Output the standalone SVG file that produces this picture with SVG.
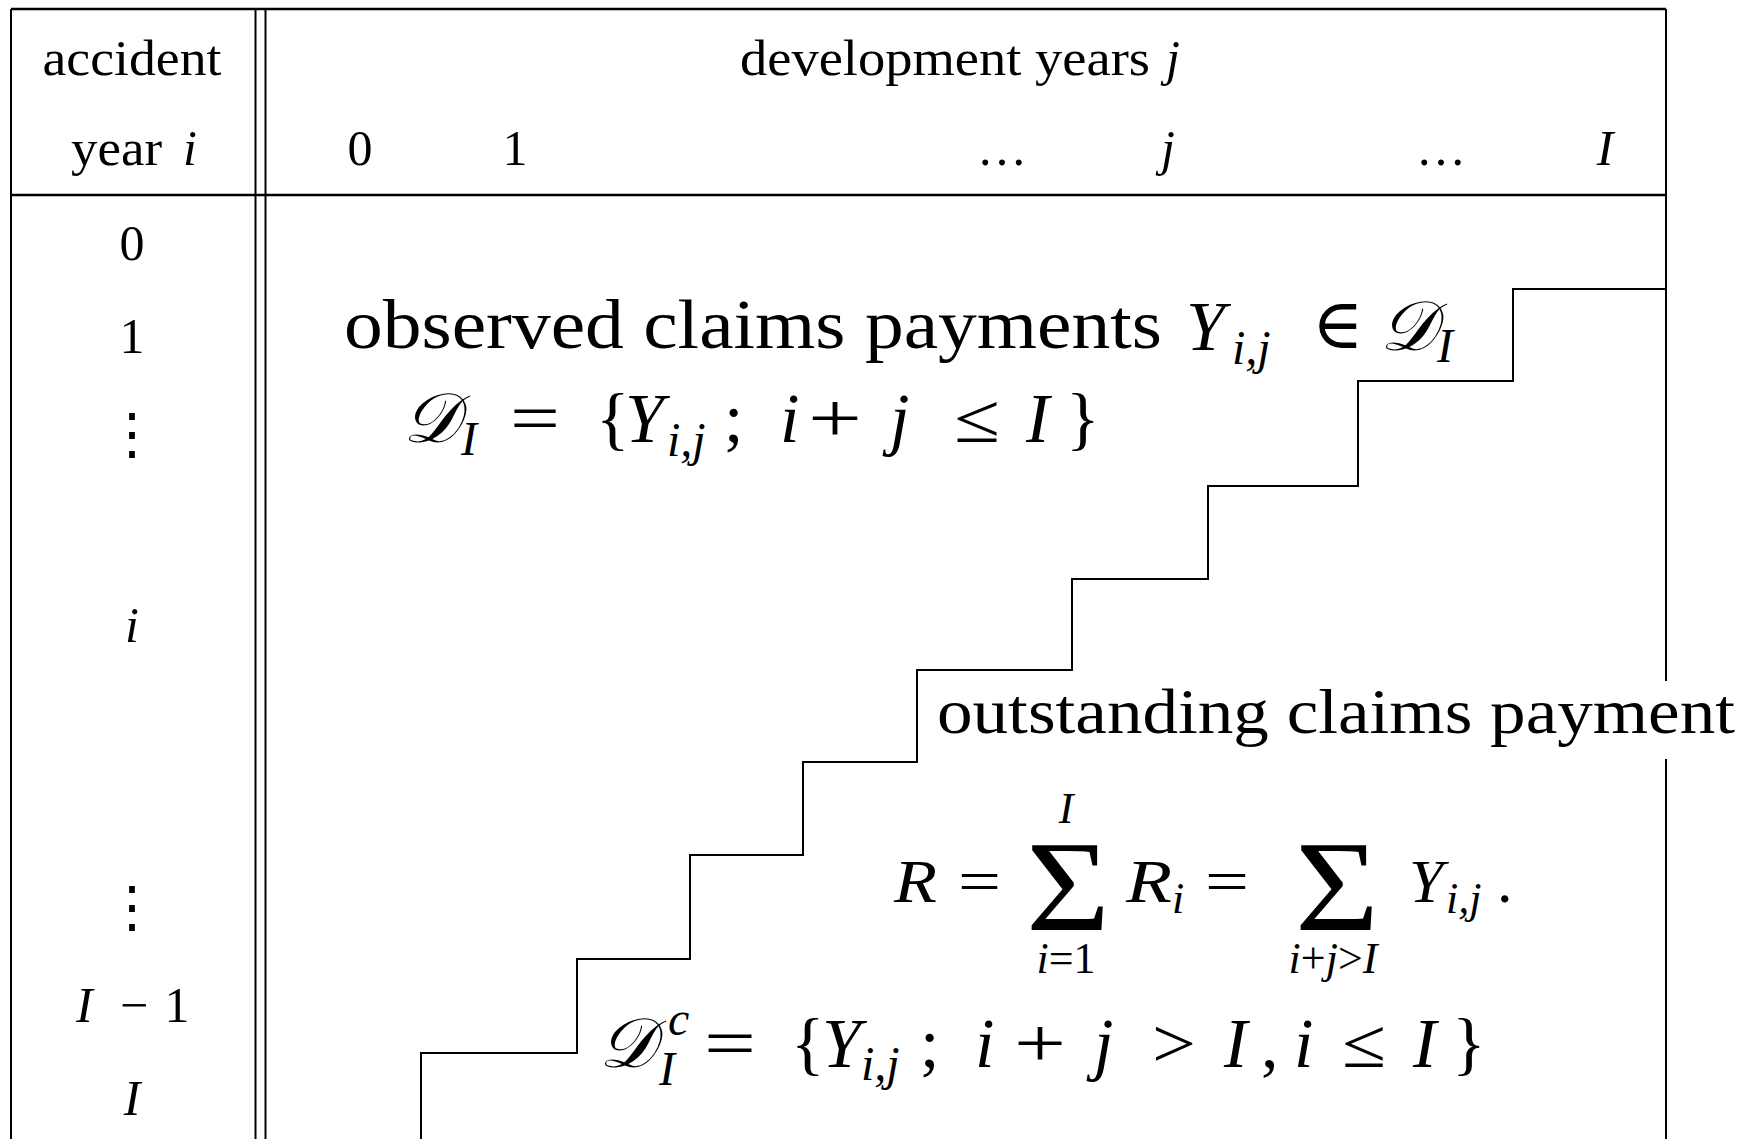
<svg xmlns="http://www.w3.org/2000/svg" width="1757" height="1139" viewBox="0 0 1757 1139">
<style>
text{font-family:"Liberation Serif","DejaVu Serif",serif;fill:#000}
.it{font-style:italic}
.h{font-size:50px}
.big{font-size:70px}
.sub{font-size:48px}
.mid{font-size:62px}
.lim{font-size:44px}
.cal{font-family:"DejaVu Serif","Liberation Serif",serif;font-style:italic}
.ln{stroke:#000;stroke-width:2;fill:none}
.thick{stroke:#000;stroke-width:2.6;fill:none}
.c{text-anchor:middle}
</style>
<rect width="1757" height="1139" fill="#fff"/>
<g id="table">
<line class="thick" x1="11" y1="9" x2="1666" y2="9"/>
<line class="thick" x1="11" y1="195" x2="1666" y2="195"/>
<line class="ln" x1="11" y1="9" x2="11" y2="1139"/>
<line class="ln" x1="255.5" y1="9" x2="255.5" y2="1139"/>
<line class="ln" x1="265.5" y1="9" x2="265.5" y2="1139"/>
<line class="ln" x1="1666" y1="9" x2="1666" y2="681"/>
<line class="ln" x1="1666" y1="759" x2="1666" y2="1139"/>
</g>
<g id="header">
<text class="h c" x="132" y="75" textLength="179" lengthAdjust="spacingAndGlyphs">accident</text>
<text class="h" x="71" y="165" textLength="91" lengthAdjust="spacingAndGlyphs">year</text>
<text class="h it" x="183" y="165">i</text>
<text class="h" x="740" y="75" textLength="410" lengthAdjust="spacingAndGlyphs">development years</text>
<text class="h it" x="1166" y="75">j</text>
<text class="h c" x="360" y="165">0</text>
<text class="h c" x="515" y="165">1</text>
<text class="h c" x="1002" y="165">…</text>
<text class="h it c" x="1168" y="165">j</text>
<text class="h c" x="1441" y="165">…</text>
<text class="h it c" x="1605" y="165">I</text>
</g>
<g id="rows">
<text class="h c" x="132" y="260">0</text>
<text class="h c" x="132" y="353">1</text>
<text class="h c" x="132" y="453" style="font-size:56px">⋮</text>
<text class="h it c" x="132" y="642">i</text>
<text class="h c" x="132" y="926" style="font-size:56px">⋮</text>
<text class="h it" x="76" y="1022">I</text>
<text class="h c" x="134" y="1022">−</text>
<text class="h c" x="177" y="1022">1</text>
<text class="h it c" x="132" y="1115">I</text>
</g>
<g id="staircase">
<polyline class="ln" points="1666,289 1513,289 1513,381 1358,381 1358,486 1208,486 1208,579 1072,579 1072,670 917,670 917,762 803,762 803,855 690,855 690,959 577,959 577,1053 421,1053 421,1139"/>
</g>
<g id="observed">
<text class="big" x="344" y="348" textLength="818" lengthAdjust="spacingAndGlyphs">observed claims payments</text>
<text class="big it" x="1186" y="350">Y</text>
<text class="sub it" x="1232" y="364">i,j</text>
<text class="big" x="1312" y="348">∈</text>
<text class="big cal" x="1380" y="350">𝒟</text>
<text class="sub it" x="1437" y="362">I</text>
</g>
<g id="DI">
<text class="big cal" x="403" y="442">𝒟</text>
<text class="sub it" x="461" y="455">I</text>
<text class="big" x="510" y="442" textLength="50" lengthAdjust="spacingAndGlyphs">=</text>
<text class="big" x="596" y="442">{</text>
<text class="big it" x="625" y="442">Y</text>
<text class="sub it" x="667" y="456">i,j</text>
<text class="big" x="724" y="442">;</text>
<text class="big it" x="780" y="442">i</text>
<text class="big" x="808" y="442" textLength="54" lengthAdjust="spacingAndGlyphs">+</text>
<text class="big it" x="890" y="442">j</text>
<text class="big" x="954" y="442" textLength="46" lengthAdjust="spacingAndGlyphs">≤</text>
<text class="big it" x="1026" y="442">I</text>
<text class="big" x="1066" y="442">}</text>
</g>
<g id="outstanding">
<text x="937" y="733" style="font-size:63px" textLength="798" lengthAdjust="spacingAndGlyphs">outstanding claims payment</text>
</g>
<g id="sum">
<text class="mid it" x="894" y="902" textLength="43" lengthAdjust="spacingAndGlyphs">R</text>
<text class="mid" x="958" y="902" textLength="43" lengthAdjust="spacingAndGlyphs">=</text>
<text x="1026" y="930" style="font-size:130px" textLength="84" lengthAdjust="spacingAndGlyphs">Σ</text>
<text class="lim it c" x="1066" y="823">I</text>
<text class="lim c" x="1066" y="973"><tspan class="it">i</tspan>=1</text>
<text class="mid it" x="1126" y="902" textLength="46" lengthAdjust="spacingAndGlyphs">R</text>
<text class="lim it" x="1172" y="913">i</text>
<text class="mid" x="1205" y="902" textLength="44" lengthAdjust="spacingAndGlyphs">=</text>
<text x="1295" y="930" style="font-size:130px" textLength="84" lengthAdjust="spacingAndGlyphs">Σ</text>
<text class="lim c" x="1333" y="973"><tspan class="it">i</tspan>+<tspan class="it">j</tspan>&gt;<tspan class="it">I</tspan></text>
<text class="mid it" x="1409" y="902">Y</text>
<text class="lim it" x="1446" y="913">i,j</text>
<text class="mid" x="1497" y="902">.</text>
</g>
<g id="DIc">
<text class="big cal" x="599" y="1067">𝒟</text>
<text class="sub it" x="668" y="1035">c</text>
<text class="sub it" x="659" y="1085">I</text>
<text class="big" x="704" y="1067" textLength="52" lengthAdjust="spacingAndGlyphs">=</text>
<text class="big" x="791" y="1067">{</text>
<text class="big it" x="822" y="1067">Y</text>
<text class="sub it" x="861" y="1080">i,j</text>
<text class="big" x="920" y="1067">;</text>
<text class="big it" x="975" y="1067">i</text>
<text class="big" x="1014" y="1067" textLength="52" lengthAdjust="spacingAndGlyphs">+</text>
<text class="big it" x="1094" y="1067">j</text>
<text class="big" x="1152" y="1067" textLength="44" lengthAdjust="spacingAndGlyphs">&gt;</text>
<text class="big it" x="1224" y="1067">I</text>
<text class="big" x="1261" y="1067">,</text>
<text class="big it" x="1294" y="1067">i</text>
<text class="big" x="1342" y="1067" textLength="44" lengthAdjust="spacingAndGlyphs">≤</text>
<text class="big it" x="1413" y="1067">I</text>
<text class="big" x="1452" y="1067">}</text>
</g>
</svg>
